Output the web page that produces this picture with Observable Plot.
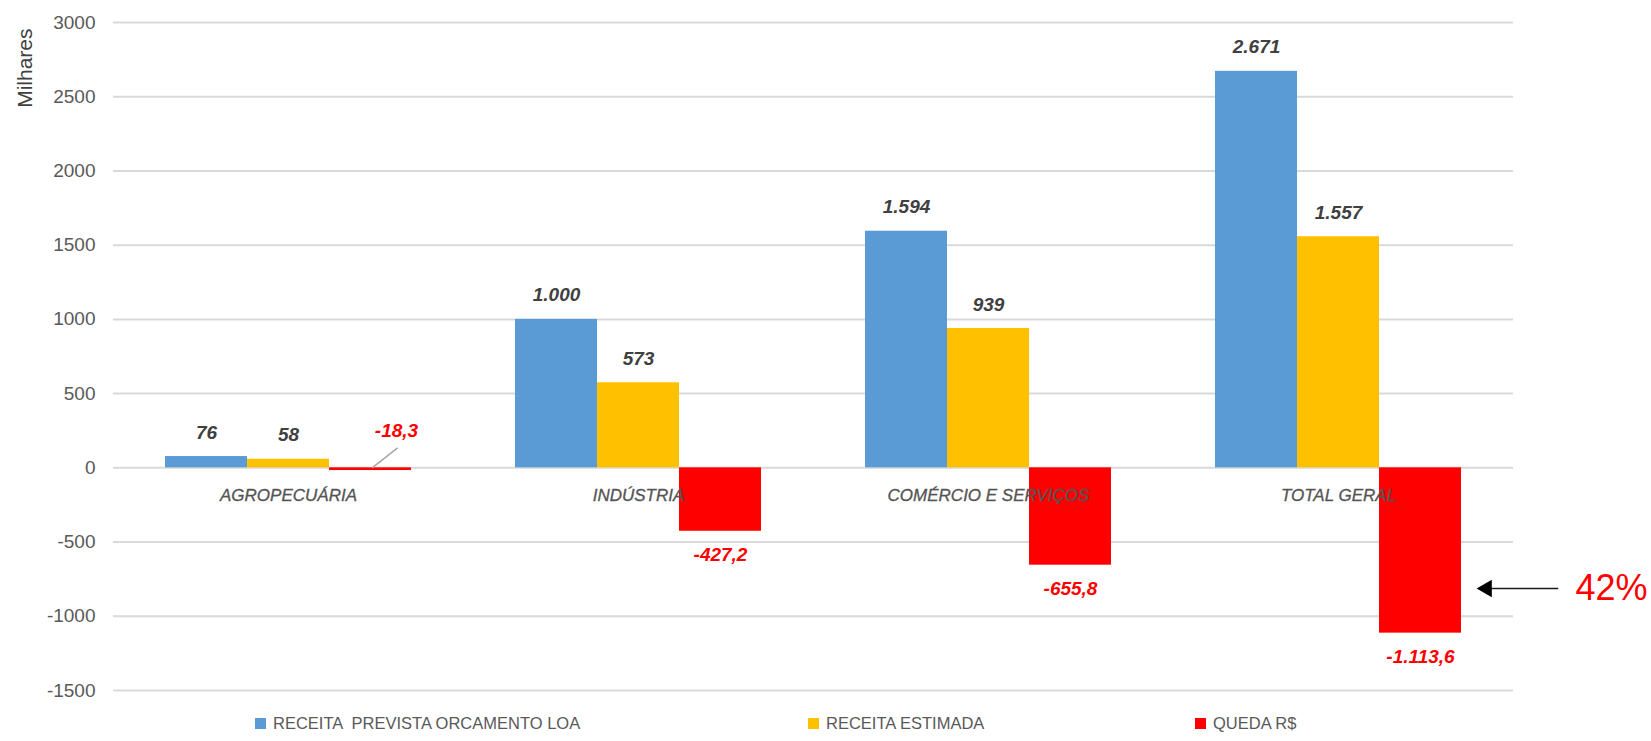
<!DOCTYPE html>
<html>
<head>
<meta charset="utf-8">
<script src="https://cdn.jsdelivr.net/npm/d3@7"></script>
<script src="https://cdn.jsdelivr.net/npm/@observablehq/plot@0.6"></script>
<style>
  html, body { margin: 0; padding: 0; background: #fff; }
  #wrap { width: 1651px; height: 741px; position: relative; font-family: "Liberation Sans", Arial, sans-serif; }
  #legend { position: relative; height: 36px; width: 1651px; }
  .item { position: absolute; top: 0; height: 36px; display: flex; align-items: center; white-space: pre; font-size: 16.5px; color: #595959; }
  .sw { width: 11px; height: 11px; margin-right: 7px; }
</style>
</head>
<body>
<div id="wrap"><div id="chart"></div><div id="legend"></div></div>
<script>
// ---- data ----
const categories = ["AGROPECUÁRIA", "INDÚSTRIA", "COMÉRCIO E SERVIÇOS", "TOTAL GERAL"];
const seriesNames = ["RECEITA  PREVISTA ORCAMENTO LOA", "RECEITA ESTIMADA", "QUEDA R$"];
const receitaPrevista = [76, 1000, 1594, 2671];
const receitaEstimada = [58, 573, 939, 1557];
const quedaRS = [-18.3, -427.2, -655.8, -1113.6];
const seriesColors = ["#5B9BD5", "#FFC000", "#FF0000"];
const yTicks = [-1500, -1000, -500, 0, 500, 1000, 1500, 2000, 2500, 3000];
const yAxisLabel = "Milhares";
const annotationText = "42%";
const annotationCategory = "TOTAL GERAL";
const annotationValue = -813;

// ---- table ----
const seriesValues = [receitaPrevista, receitaEstimada, quedaRS];
const table = categories.flatMap((cat, i) =>
  seriesNames.map((series, s) => ({cat, series, s, v: seriesValues[s][i]})));

const loc = d3.formatLocale({decimal: ",", thousands: ".", grouping: [3], currency: ["R$", ""], minus: "-"});
const fmtInt = loc.format(",.0f");
const fmtDec = loc.format(",.1f");
const fmt = v => v >= 0 ? fmtInt(v) : fmtDec(v);

const xPad = 0.634;
const mid = seriesNames.length / 2;
const font = "'Liberation Sans', Arial, sans-serif";

const pos = table.filter(d => d.v >= 0);
const negBig = table.filter(d => d.v < 0 && d.v <= -100);
const negSmall = table.filter(d => d.v < 0 && d.v > -100);
const annot = [{cat: annotationCategory, s: seriesNames.length - 1, v: annotationValue}];

const chart = Plot.plot({
  width: 1651,
  height: 705,
  marginTop: 22,
  marginBottom: 15,
  marginLeft: 112,
  marginRight: 138,
  style: {fontFamily: font, fontSize: "19px", color: "#595959", background: "#fff", overflow: "visible"},
  fx: {domain: categories, padding: 0, axis: null},
  x: {domain: [-xPad, seriesNames.length + xPad], axis: null},
  y: {domain: [yTicks[0], yTicks[yTicks.length - 1]], ticks: yTicks, tickFormat: d => String(d), tickSize: 0, tickPadding: 18, label: null},
  color: {domain: seriesNames, range: seriesColors},
  marks: [
    Plot.ruleY(yTicks, {stroke: "#d9d9d9", strokeWidth: 2}),
    Plot.rect(table, {fx: "cat", x1: "s", x2: d => d.s + 1, y1: 0, y2: "v", fill: "series"}),
    Plot.text(categories, {fx: d => d, x: mid, y: 0, text: d => d, dy: 28, fontStyle: "italic", fontSize: 17, fill: "#545454", stroke: "#545454", strokeWidth: 0.3}),
    Plot.text(pos, {fx: "cat", x: d => d.s + 0.5, y: "v", text: d => fmt(d.v), dy: -24, fontWeight: "bold", fontStyle: "italic", fontSize: 19, fill: "#404040"}),
    Plot.text(negBig, {fx: "cat", x: d => d.s + 0.5, y: "v", text: d => fmt(d.v), dy: 24, fontWeight: "bold", fontStyle: "italic", fontSize: 19, fill: "#FF0000"}),
    Plot.link(negSmall, {fx: "cat", x1: d => d.s + 0.52, y1: 0, x2: d => d.s + 0.83, y2: 135, stroke: "#a6a6a6", strokeWidth: 1.5}),
    Plot.text(negSmall, {fx: "cat", x: d => d.s + 0.5, y: 0, text: d => fmt(d.v), dx: 26, dy: -37, fontWeight: "bold", fontStyle: "italic", fontSize: 19, fill: "#FF0000"}),
    Plot.link(annot, {fx: "cat", x1: d => d.s + 2.18, y1: "v", x2: d => d.s + 1.3, y2: "v", stroke: "#1a1a1a", strokeWidth: 1.5}),
    Plot.dot(annot, {fx: "cat", x: d => d.s + 1.21, y: "v", dx: 8, symbol: "triangle", rotate: -90, r: 6.5, fill: "#000", stroke: "none"}),
    Plot.text(annot, {fx: "cat", x: d => d.s + 2.39, y: "v", text: () => annotationText, textAnchor: "start", fontSize: 36, fill: "#FF0000"}),
    Plot.text([categories[0]], {fx: d => d, frameAnchor: "top-left", text: () => yAxisLabel, rotate: -90, textAnchor: "end", dx: -96, dy: 6, fontSize: 21, fill: "#404040"})
  ]
});
document.getElementById("chart").appendChild(chart);

// ---- legend ----
const legendLeft = [255, 808, 1195];
const legend = document.getElementById("legend");
seriesNames.forEach((name, i) => {
  const it = document.createElement("div");
  it.className = "item";
  it.style.left = legendLeft[i] + "px";
  const sw = document.createElement("span");
  sw.className = "sw";
  sw.style.background = seriesColors[i];
  const tx = document.createElement("span");
  tx.textContent = name;
  it.appendChild(sw); it.appendChild(tx);
  legend.appendChild(it);
});
</script>
</body>
</html>
